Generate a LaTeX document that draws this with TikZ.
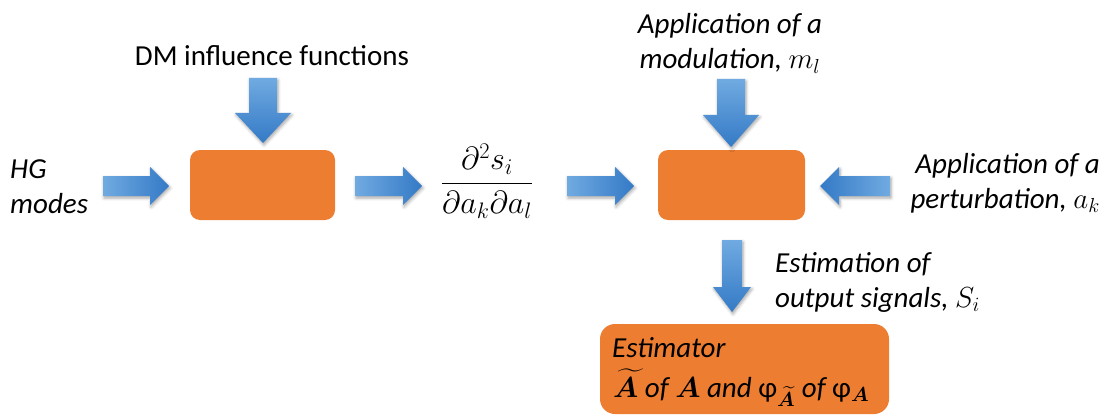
\RequirePackage{fix-cm}
\documentclass[tikz,border=0pt]{standalone}
\usepackage{amsmath,bm}
\usepackage{fontspec}
\setmainfont{Carlito}
\usetikzlibrary{shadows.blur}
\definecolor{boxorange}{RGB}{237,125,49}
\definecolor{arrlight}{RGB}{112,170,225}
\definecolor{arrdark}{RGB}{52,122,198}
\tikzset{
 blockbox/.style={fill=boxorange, rounded corners=10pt, inner sep=0pt},
 arrowshape/.style={blur shadow={shadow xshift=1pt, shadow yshift=-2pt, shadow blur radius=3pt, shadow opacity=35}},
 txt/.style={inner sep=0pt, font=\fontsize{29}{35}\selectfont},
 itxt/.style={inner sep=0pt, font=\fontsize{29}{35}\selectfont\itshape},
}
% right-pointing: x1 (tail), x2 (tip), y, shaft half, head half, head length
\newcommand{\myRarrow}[6]{%
 \path[arrowshape, left color=arrlight, right color=arrdark]
 (#1,#3-#4) -- (#2-#6,#3-#4) -- (#2-#6,#3-#5) -- (#2,#3) -- (#2-#6,#3+#5) -- (#2-#6,#3+#4) -- (#1,#3+#4) -- cycle;}
% left-pointing: x1 (tail), x2 (tip), y, ...
\newcommand{\myLarrow}[6]{%
 \path[arrowshape, left color=arrdark, right color=arrlight]
 (#1,#3-#4) -- (#2+#6,#3-#4) -- (#2+#6,#3-#5) -- (#2,#3) -- (#2+#6,#3+#5) -- (#2+#6,#3+#4) -- (#1,#3+#4) -- cycle;}
% down-pointing: x, y1 (tail), y2 (tip), ...
\newcommand{\myDarrow}[6]{%
 \path[arrowshape, top color=arrlight, bottom color=arrdark]
 (#1-#4,#2) -- (#1-#4,#3-#6) -- (#1-#5,#3-#6) -- (#1,#3) -- (#1+#5,#3-#6) -- (#1+#4,#3-#6) -- (#1+#4,#2) -- cycle;}
\begin{document}
\begin{tikzpicture}[x=1pt,y=-1pt]
\useasboundingbox (0,0) rectangle (1115,417);
% boxes
\node[blockbox, minimum width=145pt, minimum height=70pt] (b1) at (262.5,185) {};
\node[blockbox, minimum width=147pt, minimum height=70pt] (b2) at (731.5,185) {};
\node[blockbox, rounded corners=15pt, minimum width=289pt, minimum height=90pt] (est) at (744.5,369) {};
% arrows
\myRarrow{103}{169}{186}{10}{19}{19}
\myRarrow{355}{422}{186}{10}{19}{19}
\myRarrow{567}{634}{186}{10}{19}{19}
\myLarrow{890}{820}{186}{10}{19}{19}
\myDarrow{263}{78}{143}{14}{28}{30}
\myDarrow{731}{79}{147}{14}{28}{32}
\myDarrow{732}{240}{312}{10}{19}{25}
% texts
\node[itxt, anchor=base west] (hg1) at (10,178) {HG};
\node[itxt, anchor=base west] (hg2) at (10,213) {modes};
\node[txt, anchor=base] (dm) at (272,66) {DM influence functions};
\node[inner sep=0pt, font=\fontsize{32}{38}\selectfont] (frac) at (487,181) {$\dfrac{\partial^2 s_i}{\partial a_k\partial a_l}$};
\node[itxt, anchor=base] (ap1) at (730,34) {Application of a};
\node[itxt, anchor=base] (ap2) at (730,69) {modulation, $m_l$};
\node[itxt, anchor=base east] (pe1) at (1100,173) {Application of a};
\node[itxt, anchor=base east] (pe2) at (1100,208) {perturbation, $a_k$};
\node[itxt, anchor=base west] (es1) at (775,272) {Estimation of};
\node[itxt, anchor=base west] (es2) at (775,307) {output signals, $S_i$};
\node[itxt, anchor=base west] (e1) at (612,357) {Estimator};
\node[itxt, anchor=base west] (e2) at (613,397) {$\widetilde{\bm A}$ of $\bm A$ and {\upshape φ}$_{\widetilde{\bm A}}$ of {\upshape φ}$_{\bm A}$};
\end{tikzpicture}
\end{document}
